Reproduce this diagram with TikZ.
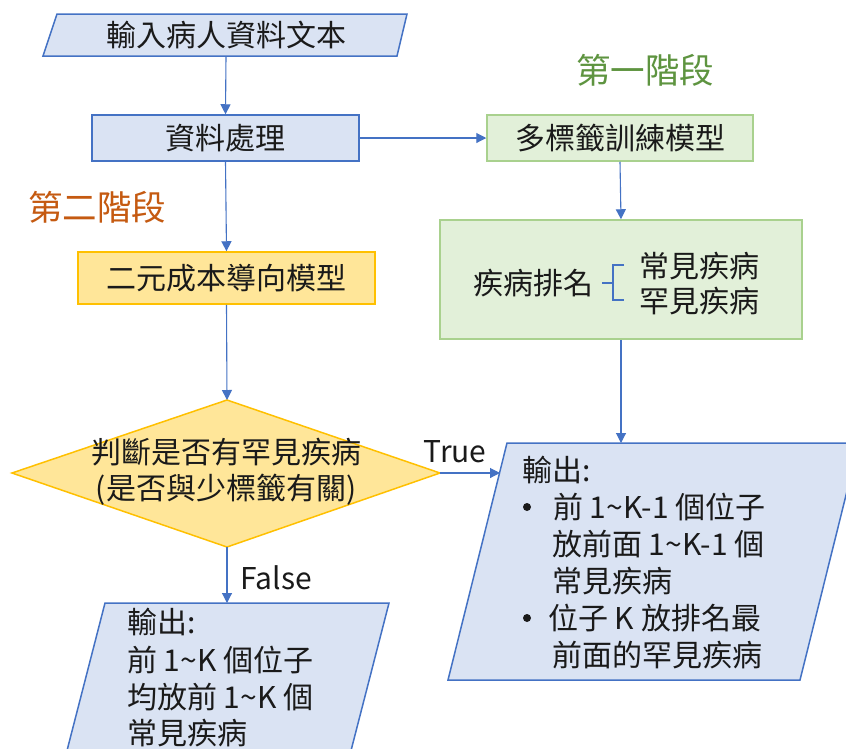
\documentclass[tikz,border=0pt]{standalone}
\usepackage{fontspec}
\setmainfont{Noto Sans CJK TC}
\usetikzlibrary{arrows.meta}
\definecolor{lnblue}{HTML}{4472C4}
\definecolor{fillblue}{HTML}{DAE3F3}
\definecolor{fillgreen}{HTML}{E2F0D9}
\definecolor{strkgreen}{HTML}{A9D18E}
\definecolor{fillyellow}{HTML}{FFE699}
\definecolor{strkyellow}{HTML}{FFC000}
\definecolor{txtorange}{HTML}{C55A11}
\definecolor{txtgreen}{HTML}{5E9440}
\definecolor{txtdark}{HTML}{1A1A1A}
\tikzset{
  boxbase/.style={rectangle, line width=1.5pt, inner sep=0pt, text=txtdark},
  bluebox/.style={boxbase, draw=lnblue, fill=fillblue},
  greenbox/.style={boxbase, draw=strkgreen, fill=fillgreen},
  yellowbox/.style={boxbase, draw=strkyellow, fill=fillyellow},
  txt/.style={inner sep=0pt, text=txtdark},
  bulletdot/.style={circle, fill=txtdark, inner sep=0pt, minimum size=8pt},
  stagetxt/.style={inner sep=0pt, font=\fontsize{34.5}{40}\selectfont},
  conn/.style={draw=lnblue, line width=1.1pt, -{Triangle[length=10pt,width=10pt]}},
}
\begin{document}
\begin{tikzpicture}[x=1pt,y=-1pt,font=\fontsize{30}{36}\selectfont]
\useasboundingbox (0,0) rectangle (846,748);
\clip (0,0) rectangle (846,748);
\fill[white] (0,0) rectangle (846,748);

% input parallelogram
\draw[line width=1.5pt, draw=lnblue, fill=fillblue] (57,14) -- (407,14) -- (397,56) -- (43,56) -- cycle;
\node[txt] (inT) at (226,35) {輸入病人資料文本};
\coordinate (inB) at (226,56);

% process box
\node[bluebox, minimum width=267pt, minimum height=46pt] (proc) at (225.5,138) {資料處理};

% stage labels
\node[stagetxt, text=txtgreen] (stage1) at (645,70) {第一階段};
\node[stagetxt, text=txtorange] (stage2) at (97,207) {第二階段};

% multi-label model
\node[greenbox, minimum width=266pt, minimum height=46pt] (multi) at (620,138) {多標籤訓練模型};

% ranking box
\node[greenbox, minimum width=362pt, minimum height=119pt] (rank) at (621,279.5) {};
\node[txt] (rankT) at (533,283) {疾病排名};
\node[txt] (common) at (699,266) {常見疾病};
\node[txt] (rare) at (699,301) {罕見疾病};
\draw[draw=lnblue, line width=1.5pt] (602,283) -- (613,283);
\draw[draw=lnblue, line width=1.5pt] (624,265) -- (613,265) -- (613,300) -- (624,300);

% cost model
\node[yellowbox, minimum width=297pt, minimum height=52pt] (cost) at (226.5,278) {二元成本導向模型};

% diamond
\coordinate (dT) at (227,400);
\coordinate (dR) at (440,473);
\coordinate (dB) at (227,547);
\coordinate (dL) at (12,473);
\draw[line width=1.5pt, draw=strkyellow, fill=fillyellow] (dT) -- (dR) -- (dB) -- (dL) -- cycle;
\node[txt] (q1) at (226,452) {判斷是否有罕見疾病};
\node[txt] (q2) at (226,490) {(是否與少標籤有關)};

% bottom-left output
\draw[line width=1.5pt, draw=lnblue, fill=fillblue] (105,603) -- (389,603) -- (346,770) -- (62,770) -- cycle;
\coordinate (fIn) at (227,603);
\node[txt, anchor=west] (o1) at (127,622) {輸出:};
\node[txt, anchor=west] (o2) at (127,660) {前 1\string~K 個位子};
\node[txt, anchor=west] (o3) at (127,697) {均放前 1\string~K 個};
\node[txt, anchor=west] (o4) at (127,733) {常見疾病};

% right output
\draw[line width=1.5pt, draw=lnblue, fill=fillblue] (507,443) -- (859,443) -- (800,680) -- (448,680) -- cycle;
\coordinate (tIn) at (500,473);
\coordinate (rTop) at (621,443);
\node[txt, anchor=west] (r1) at (522,470) {輸出:};
\node[bulletdot] (b1) at (527,507) {};
\node[txt, anchor=west] (r2) at (553,507) {前 1\string~K-1 個位子};
\node[txt, anchor=west] (r3) at (552,544) {放前面 1\string~K-1 個};
\node[txt, anchor=west] (r4) at (552,581) {常見疾病};
\node[bulletdot] (b2) at (527,618) {};
\node[txt, anchor=west] (r5) at (548,618) {位子 K 放排名最};
\node[txt, anchor=west] (r6) at (552,655) {前面的罕見疾病};

% connectors
\draw[conn] (inB) -- (proc.north);
\draw[conn] (proc.south) -- (cost.north);
\draw[conn] (proc.east) -- (multi.west);
\draw[conn] (multi.south) -- (rank.north);
\draw[conn] (cost.south) -- (dT);
\draw[conn] (dR) -- (tIn);
\draw[conn] (dB) -- (fIn);
\draw[conn] (rank.south) -- (rTop);

% labels
\node[txt] (lblT) at (455,452) {True};
\node[txt] (lblF) at (276,578) {False};
\end{tikzpicture}
\end{document}
